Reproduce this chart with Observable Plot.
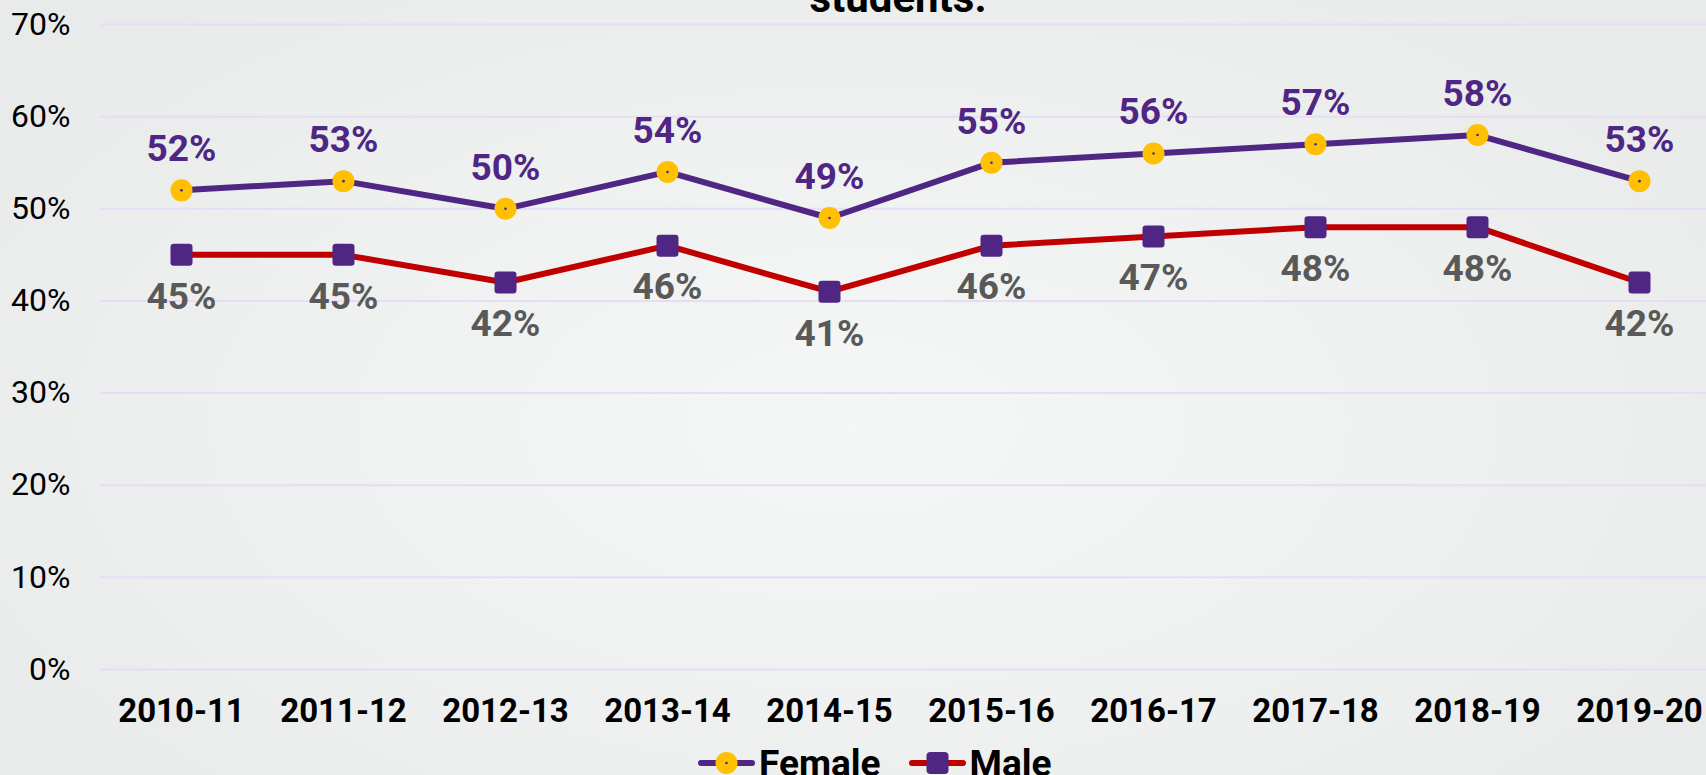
<!DOCTYPE html>
<html>
<head>
<meta charset="utf-8">
<script src="https://cdn.jsdelivr.net/npm/d3@7"></script>
<script src="https://cdn.jsdelivr.net/npm/@observablehq/plot@0.6"></script>
<style>
  html, body { margin: 0; padding: 0; }
  body {
    width: 1706px; height: 775px; overflow: hidden; position: relative;
    font-family: Roboto, "Noto Sans", sans-serif;
    background: radial-gradient(ellipse 60% 70% at 50% 55%, #f5f6f6 0%, #eff0f0 55%, #e9eaea 100%);
  }
  #title {
    position: absolute; left: 0; width: 1796px; top: -23px; text-align: center;
    font-size: 42px; line-height: 42px; font-weight: bold; color: #000;
  }
  #chart { position: absolute; left: 0; top: 0; }
  #legend {
    position: absolute; left: 698px; top: 740px; height: 46px;
    display: flex; align-items: center; font-size: 37px; font-weight: bold; color: #000;
  }
  #legend .item { display: flex; align-items: center; }
  #legend svg { margin-right: 4px; }
</style>
</head>
<body>
<div id="title">students.</div>
<div id="chart"></div>
<div id="legend">
  <div class="item">
    <svg width="57" height="26" viewBox="0 0 57 26">
      <line x1="3" y1="13" x2="54" y2="13" stroke="#4f2683" stroke-width="6" stroke-linecap="round"/>
      <circle cx="28.5" cy="13" r="11" fill="#ffc000"/>
      <circle cx="28.5" cy="13" r="1.3" fill="#4f2683"/>
    </svg>
    <span>Female</span>
  </div>
  <div class="item" style="margin-left:28px">
    <svg width="57" height="26" viewBox="0 0 57 26">
      <line x1="3" y1="13" x2="54" y2="13" stroke="#c00000" stroke-width="6" stroke-linecap="round"/>
      <rect x="17.5" y="2" width="22" height="22" rx="4" fill="#4f2683"/>
    </svg>
    <span>Male</span>
  </div>
</div>
<script>
const years = ["2010-11","2011-12","2012-13","2013-14","2014-15","2015-16","2016-17","2017-18","2018-19","2019-20"];
const female = [52, 53, 50, 54, 49, 55, 56, 57, 58, 53];
const male = [45, 45, 42, 46, 41, 46, 47, 48, 48, 42];
const yTicks = [0, 10, 20, 30, 40, 50, 60, 70];

const table = years.map((year, i) => ({year, female: female[i], male: male[i]}));

const roundedSquare = {
  draw(ctx, size) {
    const r = Math.sqrt(size / Math.PI);
    const c = r * 0.3;
    ctx.moveTo(-r + c, -r);
    ctx.lineTo(r - c, -r);
    ctx.arcTo(r, -r, r, -r + c, c);
    ctx.lineTo(r, r - c);
    ctx.arcTo(r, r, r - c, r, c);
    ctx.lineTo(-r + c, r);
    ctx.arcTo(-r, r, -r, r - c, c);
    ctx.lineTo(-r, -r + c);
    ctx.arcTo(-r, -r, -r + c, -r, c);
    ctx.closePath();
  }
};

const purple = "#4f2683";
const gold = "#ffc000";
const red = "#c00000";

const chart = Plot.plot({
  width: 1706,
  height: 740,
  marginTop: 24,
  marginBottom: 71,
  marginLeft: 100,
  marginRight: 0,
  style: {background: "transparent", fontFamily: "Roboto, sans-serif", overflow: "visible"},
  x: {type: "point", domain: years, range: [181, 1639], padding: 0, label: null},
  y: {domain: [0, 70], label: null},
  marks: [
    Plot.ruleY(yTicks, {stroke: "#e6dcf4", strokeWidth: 2}),
    Plot.axisY(yTicks, {tickSize: 0, tickPadding: 30, tickFormat: d => d + "%", fontSize: 32, fill: "#000", label: null}),
    Plot.axisX(years, {tickSize: 0, tickPadding: 29, fontSize: 33, fontWeight: "bold", fill: "#000", label: null}),
    Plot.line(table, {x: "year", y: "female", stroke: purple, strokeWidth: 6}),
    Plot.line(table, {x: "year", y: "male", stroke: red, strokeWidth: 6}),
    Plot.dot(table, {x: "year", y: "female", r: 11, fill: gold}),
    Plot.dot(table, {x: "year", y: "female", r: 1.3, fill: purple}),
    Plot.dot(table, {x: "year", y: "male", r: 11, symbol: roundedSquare, fill: purple}),
    Plot.text(table, {x: "year", y: "female", text: d => d.female + "%", dy: -41, fontSize: 37, fontWeight: "bold", fill: purple}),
    Plot.text(table, {x: "year", y: "male", text: d => d.male + "%", dy: 42, fontSize: 37, fontWeight: "bold", fill: "#595959"})
  ]
});
document.getElementById("chart").appendChild(chart);
</script>
</body>
</html>
